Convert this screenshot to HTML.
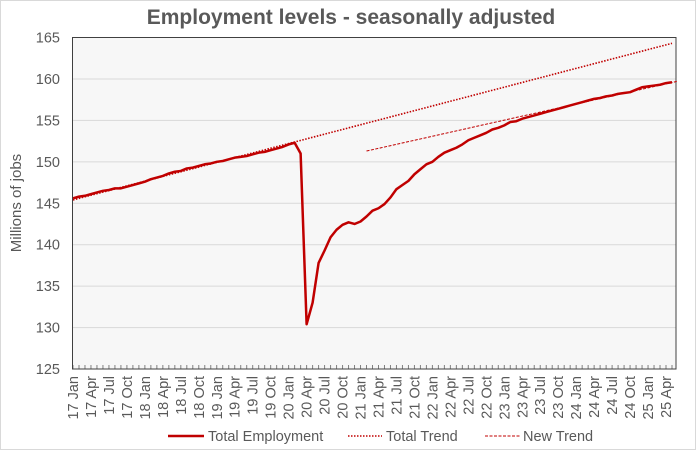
<!DOCTYPE html>
<html><head><meta charset="utf-8"><style>
html,body{margin:0;padding:0;background:#fff;}
svg{display:block;font-family:"Liberation Sans",sans-serif;}
</style></head><body>
<svg id="chart" width="696" height="450" viewBox="0 0 696 450">
<rect x="0.5" y="0.5" width="695" height="449" fill="#fff" stroke="#d9d9d9"/>
<text x="351" y="24" text-anchor="middle" font-size="21" font-weight="bold" fill="#595959">Employment levels - seasonally adjusted</text>
<rect x="72.5" y="37.5" width="603.5" height="331.5" fill="#f7f7f7"/>
<g id="grid"></g>
<g id="yticks"></g>
<g id="xticks"></g>
<rect x="72.5" y="37.5" width="603.5" height="331.5" fill="none" stroke="#404040" stroke-width="1"/>
<g id="series"></g>
<text transform="translate(21,203) rotate(-90)" text-anchor="middle" font-size="15" fill="#595959">Millions of jobs</text>
<g>
<g>
<line x1="168" y1="436" x2="204" y2="436" stroke="#c00000" stroke-width="2.5"/>
<text x="208" y="441" font-size="14.5" fill="#595959">Total Employment</text></g>
<g>
<line x1="348" y1="436" x2="382" y2="436" stroke="#c00000" stroke-width="1.5" stroke-dasharray="1.5,1.5"/>
<text x="386" y="441" font-size="14.5" fill="#595959">Total Trend</text></g>
<g>
<line x1="485" y1="436" x2="520" y2="436" stroke="#c00000" stroke-width="1" stroke-dasharray="3,1.5"/>
<text x="523" y="441" font-size="14.5" fill="#595959">New Trend</text></g>
</g>
</svg>
<script>
const monthNames=["Jan","Feb","Mar","Apr","May","Jun","Jul","Aug","Sep","Oct","Nov","Dec"];
const employment=[
145.6,145.8,145.9,146.1,146.3,146.5,146.6,146.8,146.8,147.0,147.2,147.4,
147.6,147.9,148.1,148.3,148.6,148.8,148.9,149.2,149.3,149.5,149.7,149.8,
150.0,150.1,150.3,150.5,150.6,150.7,150.9,151.1,151.2,151.4,151.6,151.8,
152.1,152.3,151.0,130.4,133.0,137.8,139.3,140.9,141.8,142.4,142.7,142.5,
142.8,143.4,144.1,144.4,144.9,145.7,146.7,147.2,147.7,148.5,149.1,149.7,
150.0,150.6,151.1,151.4,151.7,152.1,152.6,152.9,153.2,153.5,153.9,154.1,
154.4,154.8,154.9,155.2,155.4,155.6,155.8,156.0,156.2,156.4,156.6,156.8,
157.0,157.2,157.4,157.6,157.7,157.9,158.0,158.2,158.3,158.4,158.7,159.0,
159.1,159.2,159.3,159.5,159.6];
const totalTrendIdx=[0,100];
const totalTrendVals=[145.4,164.3];
const newTrendIdx=[49,100.8];
const newTrendVals=[151.3,159.7];
const yTicks=[125,130,135,140,145,150,155,160,165];
const categories=employment.map((v,i)=>String(17+Math.floor(i/12))+" "+monthNames[i%12]);

const NS="http://www.w3.org/2000/svg";
const X0=73,DX=5.99,YT=37.5,YB=369,YMIN=125,YMAX=165;
const x=i=>X0+i*DX;
const y=v=>YB-(v-YMIN)/(YMAX-YMIN)*(YB-YT);
function mk(tag,attrs,parent){const e=document.createElementNS(NS,tag);for(const k in attrs)e.setAttribute(k,attrs[k]);parent.appendChild(e);return e;}
const grid=document.getElementById('grid'),yt=document.getElementById('yticks'),xt=document.getElementById('xticks'),ser=document.getElementById('series');
yTicks.forEach(t=>{
  if(t>YMIN&&t<YMAX){const g=mk('line',{x1:72.5,x2:676,y1:y(t),y2:y(t),stroke:'#d9d9d9','stroke-width':1},grid);
  
  }
  const tx=mk('text',{x:60,y:y(t)+5,'text-anchor':'end','font-size':14.5,fill:'#595959'},yt);
  tx.textContent=t;
  
  
});
categories.forEach((c,i)=>{
  const tk=mk('line',{x1:x(i),x2:x(i),y1:365,y2:369,stroke:'#808080','stroke-width':1},xt);
  
  
  if(i%3===0){
    const tx=mk('text',{transform:`translate(${x(i)+5},376) rotate(-90)`,'text-anchor':'end','font-size':14.5,fill:'#595959'},xt);
    tx.textContent=c;
    
    
  }
});
const tt=mk('polyline',{points:totalTrendIdx.map((d,k)=>x(d)+','+y(totalTrendVals[k])).join(' '),fill:'none',stroke:'#c00000','stroke-width':1.6,'stroke-dasharray':'1.5,1.5'},ser);


const nt=mk('polyline',{points:newTrendIdx.map((d,k)=>x(d)+','+y(newTrendVals[k])).join(' '),fill:'none',stroke:'#c00000','stroke-width':1,'stroke-dasharray':'3,1.5'},ser);


const el=mk('polyline',{points:employment.map((v,i)=>x(i)+','+y(v)).join(' '),fill:'none',stroke:'#c00000','stroke-width':2.5,'stroke-linejoin':'round'},ser);


</script>
</body></html>
